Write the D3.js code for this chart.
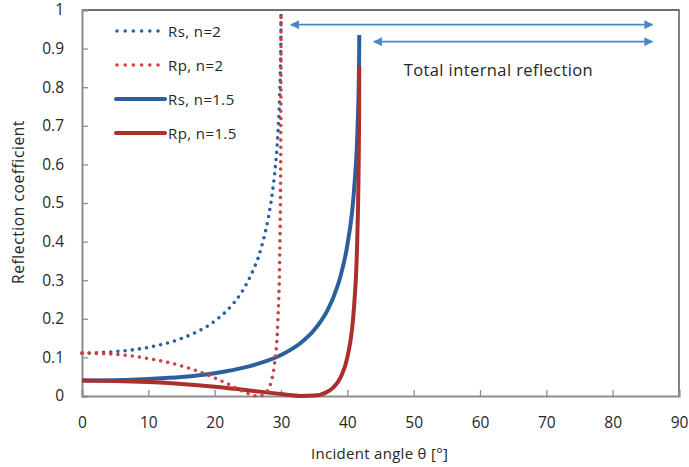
<!DOCTYPE html>
<html>
<head>
<meta charset="utf-8">
<script src="https://cdn.jsdelivr.net/npm/d3@7"></script>
<style>
  body { margin: 0; background: #fff; }
  text { font-family: "Open Sans", "Noto Sans", sans-serif; fill: #262626; }
</style>
</head>
<body>
<div id="chart"></div>
<script>
// values (incident angle in degrees -> reflectance)
const angN2 = [0, 5, 10, 15, 20, 22, 24, 25, 26, 26.5, 27, 28, 28.5, 29, 29.5, 29.8, 29.9, 29.97, 29.995, 30];
const rsN2 = [0.111, 0.115, 0.126, 0.149, 0.194, 0.224, 0.267, 0.297, 0.334, 0.355, 0.383, 0.454, 0.503, 0.569, 0.670, 0.776, 0.836, 0.906, 0.961, 0.99];
const rpN2 = [0.111, 0.108, 0.097, 0.078, 0.047, 0.031, 0.014, 0.007, 0.001, 0.0, 0.001, 0.015, 0.036, 0.080, 0.185, 0.355, 0.485, 0.674, 0.852, 0.985];

const angN15 = [0, 5, 10, 15, 20, 25, 30, 33, 35, 37, 38, 39, 40, 41, 41.5, 41.7, 41.75, 41.78, 41.8];
const rsN15 = [0.040, 0.041, 0.044, 0.049, 0.059, 0.076, 0.106, 0.138, 0.171, 0.222, 0.260, 0.312, 0.391, 0.531, 0.675, 0.791, 0.841, 0.884, 0.935];
const rpN15 = [0.040, 0.039, 0.036, 0.031, 0.024, 0.015, 0.005, 0.0002, 0.001, 0.011, 0.024, 0.049, 0.100, 0.229, 0.408, 0.589, 0.676, 0.758, 0.855];

const xTicks = [0, 10, 20, 30, 40, 50, 60, 70, 80, 90];
const yTicks = [0, 0.1, 0.2, 0.3, 0.4, 0.5, 0.6, 0.7, 0.8, 0.9, 1];

const seriesNames = ["Rs, n=2", "Rp, n=2", "Rs, n=1.5", "Rp, n=1.5"];
const seriesColors = ["#2b5f9e", "#c84343", "#2b5f9e", "#ac2f2c"];
const seriesDotted = [true, true, false, false];

// arrows span (angle range) and their label
const tirArrows = [[31.5, 86], [44, 86]];
const tirLabel = "Total internal reflection";

const W = 689, H = 467;
const margin = {top: 10, right: 10, bottom: 71, left: 82};
const width = W - margin.left - margin.right;
const height = H - margin.top - margin.bottom;

const svg = d3.select("#chart").append("svg")
    .attr("width", W).attr("height", H);

const defs = svg.append("defs");
defs.append("marker").attr("id", "arr")
    .attr("viewBox", "0 0 10 10").attr("refX", 9).attr("refY", 5)
    .attr("markerWidth", 5).attr("markerHeight", 5)
    .attr("markerUnits", "strokeWidth")
    .attr("orient", "auto-start-reverse")
    .append("path").attr("d", "M0,0 L10,5 L0,10 z").attr("fill", "#4a86c8");

const g = svg.append("g")
    .attr("transform", "translate(" + margin.left + "," + margin.top + ")");

const x = d3.scaleLinear().domain([0, 90]).range([0, width]);
const y = d3.scaleLinear().domain([0, 1]).range([height, 0]);

// frame: top and right
g.append("path")
    .attr("d", "M0,0 H" + width + " V" + height)
    .attr("fill", "none").attr("stroke", "#404040").attr("stroke-width", 1.3);

// axes (ticks inside)
const xAxis = d3.axisBottom(x).tickValues(xTicks).tickSize(-6).tickPadding(21)
    .tickFormat(d3.format("d"));
const yAxis = d3.axisLeft(y).tickValues(yTicks).tickSize(-6).tickPadding(18)
    .tickFormat(d => d === 0 || d === 1 ? d3.format("d")(d) : d3.format(".1f")(d));

const xg = g.append("g").attr("transform", "translate(0," + height + ")").call(xAxis);
const yg = g.append("g").call(yAxis);
[xg, yg].forEach(a => {
    a.select(".domain").attr("stroke", "#8c8c8c").attr("stroke-width", 2);
    a.selectAll(".tick line").attr("stroke", "#8c8c8c").attr("stroke-width", 1.3);
    a.selectAll(".tick text").attr("font-size", 15.5).attr("fill", "#262626")
        .attr("font-family", "'Open Sans', 'Noto Sans', sans-serif");
});

// axis titles
svg.append("text").attr("x", margin.left + width / 2 - 1).attr("y", 459)
    .attr("text-anchor", "middle").attr("font-size", 15).attr("letter-spacing", 0.3)
    .text("Incident angle θ [°]");
svg.append("text")
    .attr("transform", "translate(24,202) rotate(-90)")
    .attr("text-anchor", "middle").attr("font-size", 15.5).attr("letter-spacing", 0.6)
    .text("Reflection coefficient");

// curves
const allSeries = [
    angN2.map((a, i) => [a, rsN2[i]]),
    angN2.map((a, i) => [a, rpN2[i]]),
    angN15.map((a, i) => [a, rsN15[i]]),
    angN15.map((a, i) => [a, rpN15[i]])
];

const line = d3.line().x(d => x(d[0])).y(d => y(d[1])).curve(d3.curveMonotoneX);

const clip = defs.append("clipPath").attr("id", "plotclip");
clip.append("rect").attr("x", -5).attr("y", -4).attr("width", width + 10).attr("height", height + 8);

const curves = g.append("g").attr("clip-path", "url(#plotclip)");
// draw solid ones first, dotted on top
[2, 3, 0, 1].forEach(i => {
    const p = curves.append("path").datum(allSeries[i])
        .attr("d", line)
        .attr("fill", "none")
        .attr("stroke", seriesColors[i]);
    if (seriesDotted[i]) {
        p.attr("stroke-width", 3.6).attr("stroke-linecap", "round")
            .attr("stroke-dasharray", "0 7.2");
    } else {
        p.attr("stroke-width", 4).attr("stroke-linecap", "butt");
    }
});

// legend
const legend = svg.append("g");
seriesNames.forEach((name, i) => {
    const ly = 31 + i * 34;
    const ln = legend.append("line")
        .attr("x1", 116).attr("x2", 165).attr("y1", ly).attr("y2", ly)
        .attr("stroke", seriesColors[i]);
    if (seriesDotted[i]) {
        ln.attr("x1", 117).attr("x2", 158).attr("stroke-width", 3.6)
            .attr("stroke-linecap", "round").attr("stroke-dasharray", "0 8.2");
    } else {
        ln.attr("stroke-width", 4).attr("stroke-linecap", "round");
    }
    legend.append("text").attr("x", 168).attr("y", ly + 5.5)
        .attr("font-size", 15).attr("letter-spacing", 0.4).text(name);
});

// total internal reflection arrows
const arrowY = [0.962, 0.918];
tirArrows.forEach((r, i) => {
    g.append("line")
        .attr("x1", x(r[0])).attr("x2", x(r[1]))
        .attr("y1", y(arrowY[i])).attr("y2", y(arrowY[i]))
        .attr("stroke", "#4a86c8").attr("stroke-width", 1.8)
        .attr("marker-start", "url(#arr)").attr("marker-end", "url(#arr)");
});
g.append("text").attr("x", x(48.5)).attr("y", y(0.83))
    .attr("font-size", 16.5).attr("letter-spacing", 0.4).text(tirLabel);
</script>
</body>
</html>
